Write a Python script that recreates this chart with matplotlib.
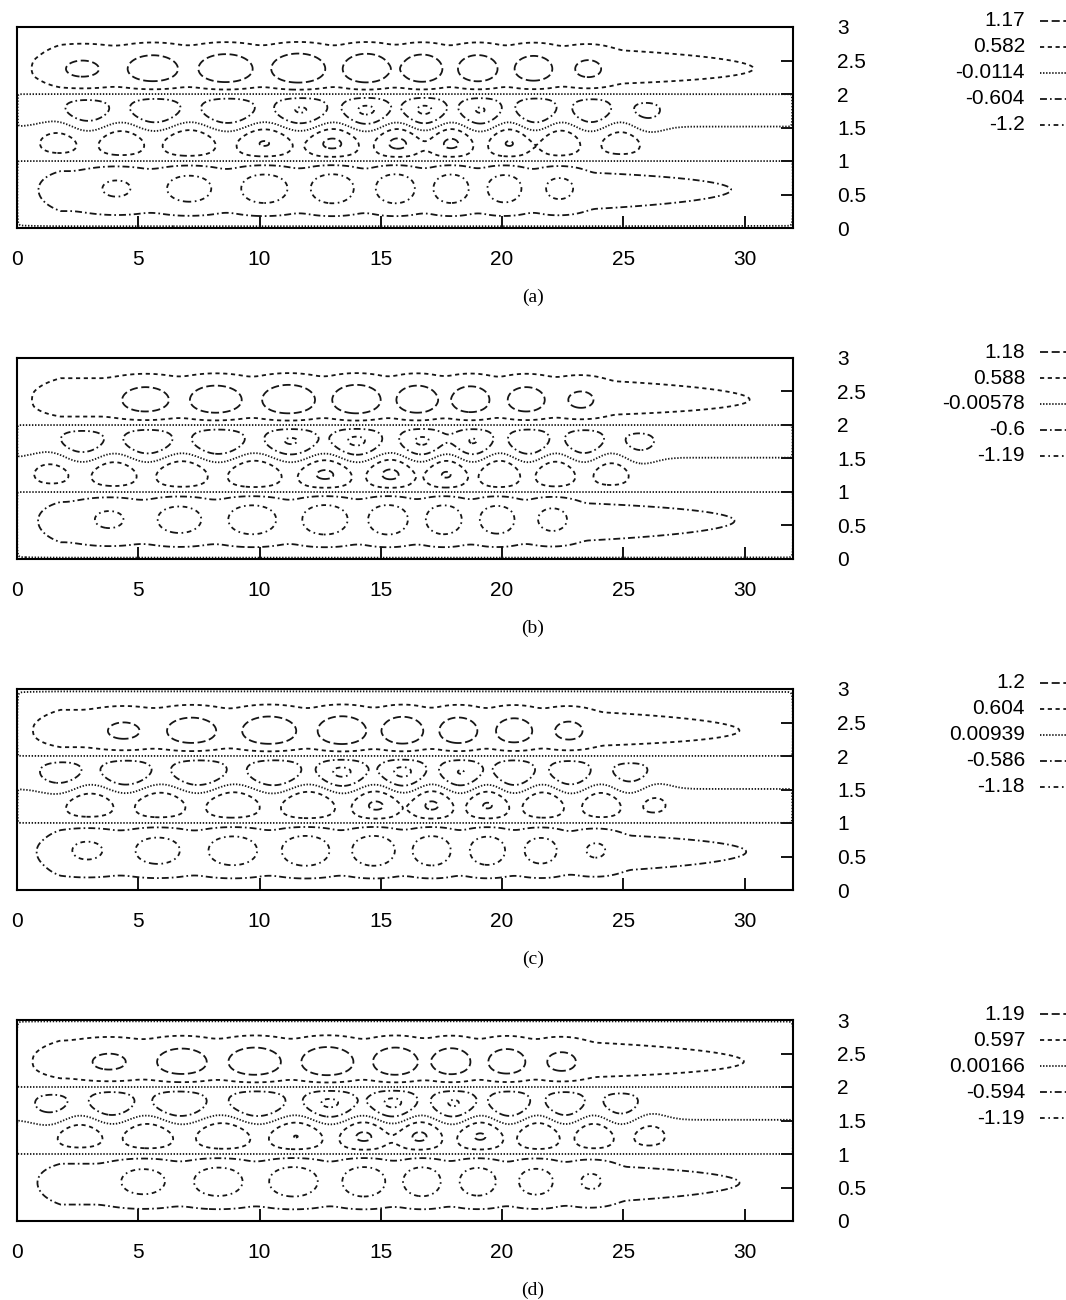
import numpy as np
import matplotlib.pyplot as plt
from matplotlib.lines import Line2D

plt.rcParams['font.family'] = ['Liberation Sans', 'DejaVu Sans']
plt.rcParams['font.size'] = 15
plt.rcParams['lines.scale_dashes'] = False

W_PX, H_PX = 1066, 1300

# contour levels as listed in each key (top to bottom)
levels_a = [1.17, 0.582, -0.0114, -0.604, -1.2]
levels_b = [1.18, 0.588, -0.00578, -0.6, -1.19]
levels_c = [1.2, 0.604, 0.00939, -0.586, -1.18]
levels_d = [1.19, 0.597, 0.00166, -0.594, -1.19]

# roll centres (x) in each of the four layers and their peak strength
top_x_a = [2.7, 5.6, 8.6, 11.6, 14.4, 16.7, 19.0, 21.3, 23.6]
top_pk_a = [1.28, 1.52, 1.6, 1.65, 1.63, 1.57, 1.53, 1.48, 1.3]
upper_x_a = [2.9, 5.7, 8.7, 11.7, 14.4, 16.8, 19.1, 21.4, 23.7, 26.0]
upper_pk_a = [0.95, 1.1, 1.15, 1.24, 1.3, 1.29, 1.24, 1.15, 1.05, 0.75]
lower_x_a = [1.7, 4.3, 7.1, 10.2, 13.0, 15.7, 17.9, 20.3, 22.4, 24.9]
lower_pk_a = [0.82, 1.0, 1.1, 1.2, 1.28, 1.29, 1.27, 1.2, 1.05, 0.9]
bottom_x_a = [4.1, 7.1, 10.2, 13.0, 15.6, 17.9, 20.1, 22.4]
bottom_pk_a = [1.3, 1.5, 1.58, 1.6, 1.6, 1.58, 1.54, 1.38]

top_x_b = [5.3, 8.2, 11.2, 14.0, 16.5, 18.7, 21.0, 23.3]
top_pk_b = [1.48, 1.58, 1.64, 1.64, 1.58, 1.53, 1.48, 1.3]
upper_x_b = [2.7, 5.4, 8.3, 11.3, 14.0, 16.7, 18.8, 21.1, 23.4, 25.7]
upper_pk_b = [0.96, 1.1, 1.15, 1.24, 1.29, 1.27, 1.22, 1.15, 1.05, 0.78]
lower_x_b = [1.4, 4.0, 6.8, 9.8, 12.7, 15.4, 17.7, 19.9, 22.2, 24.5]
lower_pk_b = [0.8, 1.0, 1.1, 1.15, 1.27, 1.29, 1.22, 1.15, 1.05, 0.9]
bottom_x_b = [3.8, 6.7, 9.7, 12.7, 15.3, 17.6, 19.8, 22.1]
bottom_pk_b = [1.3, 1.5, 1.58, 1.6, 1.6, 1.58, 1.54, 1.4]

top_x_c = [4.4, 7.2, 10.4, 13.4, 15.9, 18.2, 20.5, 22.8]
top_pk_c = [1.32, 1.54, 1.62, 1.64, 1.6, 1.55, 1.5, 1.35]
upper_x_c = [1.8, 4.5, 7.5, 10.6, 13.4, 15.9, 18.3, 20.5, 22.8, 25.3]
upper_pk_c = [0.9, 1.1, 1.15, 1.17, 1.29, 1.3, 1.2, 1.15, 1.05, 0.82]
lower_x_c = [3.0, 5.9, 8.9, 12.0, 14.8, 17.1, 19.4, 21.7, 24.1, 26.3]
lower_pk_c = [1.0, 1.07, 1.12, 1.2, 1.28, 1.28, 1.24, 1.12, 1.05, 0.72]
bottom_x_c = [2.9, 5.8, 8.9, 11.9, 14.7, 17.1, 19.4, 21.6, 23.9]
bottom_pk_c = [1.3, 1.48, 1.56, 1.6, 1.6, 1.58, 1.54, 1.46, 1.26]

top_x_d = [3.8, 6.8, 9.8, 12.8, 15.6, 17.9, 20.2, 22.5]
top_pk_d = [1.3, 1.53, 1.6, 1.64, 1.6, 1.55, 1.5, 1.35]
upper_x_d = [1.4, 3.9, 6.7, 9.9, 12.9, 15.5, 18.0, 20.3, 22.6, 24.9]
upper_pk_d = [0.8, 1.05, 1.15, 1.17, 1.28, 1.3, 1.24, 1.15, 1.05, 0.9]
lower_x_d = [2.6, 5.4, 8.5, 11.5, 14.3, 16.6, 19.1, 21.5, 23.8, 26.1]
lower_pk_d = [0.96, 1.05, 1.12, 1.2, 1.28, 1.28, 1.24, 1.15, 1.05, 0.82]
bottom_x_d = [5.2, 8.3, 11.4, 14.3, 16.7, 19.0, 21.4, 23.7]
bottom_pk_d = [1.46, 1.56, 1.6, 1.6, 1.58, 1.54, 1.48, 1.28]

captions = ['(a)', '(b)', '(c)', '(d)']

# line style for each key row (dash lengths in points)
styles = [(0, (5.8, 2.6)), (0, (3.0, 2.6)), (0, (1.0, 1.2)),
          (0, (5.0, 2.2, 1.2, 2.2)), (0, (3.4, 2.6, 1.2, 2.6))]
INK = '#161616'

XL, YL = 32.0, 3.0
xg = np.linspace(0, XL, 961)
yg = np.linspace(0, YL, 451)
X, Y = np.meshgrid(xg, yg)


def top_base(x):
    return np.interp(x, [0, 0.7, 1.8, 22, 32], [0.35, 0.62, 0.9, 0.9, 0.52])


def bottom_base(x):
    return np.interp(x, [0, 0.7, 1.8, 22, 32], [0.32, 0.56, 0.82, 0.82, 0.53])


def mid_base(x):
    return np.interp(x, [0, 1, 25, 32], [0.2, 0.25, 0.25, 0.15])


def spacing(xc):
    xc = np.asarray(xc, float)
    gaps = np.diff(xc)
    sp = np.empty_like(xc)
    sp[0], sp[-1] = gaps[0], gaps[-1]
    sp[1:-1] = (gaps[:-1] + gaps[1:]) / 2
    return xc, sp


def bumps(x, xc):
    xc, sp = spacing(xc)
    out = []
    for c, w in zip(xc, 0.65 * sp):
        d = np.abs(x - c) / w
        out.append(np.where(d < 1, np.cos(np.pi * d / 2) ** 2, 0.0))
    return out


def smooth_bumps(x, xc):
    xc, sp = spacing(xc)
    return sum(np.exp(-((x - c) / (0.38 * s)) ** 2) for c, s in zip(xc, sp))


def layer(lo, hi, t_peak, beta, base_fn, xc, pk, yc, sy):
    t = np.clip((Y - lo) / (hi - lo), 0, 1)
    prof = np.sin(np.pi * t ** (np.log(0.5) / np.log(t_peak))) ** beta
    s = base_fn(X)
    for b, c, p in zip(bumps(X, xc), xc, pk):
        s = s + (p - base_fn(c)) * b * np.exp(-((Y - yc) / sy) ** 2)
    inside = (Y >= lo) & (Y <= hi)
    return np.where(inside, prof * s, 0.0)


def field(top_x, top_pk, up_x, up_pk, lo_x, lo_pk, bot_x, bot_pk):
    # wavy divide between the two middle layers
    yb = 1.51 + 0.1 * (smooth_bumps(X, lo_x) - smooth_bumps(X, up_x))
    f = layer(2.0, 3.0, 0.38, 1.0, top_base, top_x, top_pk, 2.36, 0.42)
    f -= layer(yb, 2.0, 0.55, 0.6, mid_base, up_x, up_pk, 1.78, 0.35)
    f += layer(1.0, yb, 0.48, 0.6, mid_base, lo_x, lo_pk, 1.24, 0.35)
    f -= layer(0.0, 1.0, 0.57, 0.5, bottom_base, bot_x, bot_pk, 0.62, 0.4)
    wall = ((1 - np.exp(-(X / 0.12) ** 2)) * (1 - np.exp(-((XL - X) / 0.12) ** 2))
            * (1 - np.exp(-(Y / 0.1) ** 2)) * (1 - np.exp(-((YL - Y) / 0.1) ** 2)))
    return f * wall


panels = [
    (levels_a, (top_x_a, top_pk_a, upper_x_a, upper_pk_a, lower_x_a, lower_pk_a, bottom_x_a, bottom_pk_a)),
    (levels_b, (top_x_b, top_pk_b, upper_x_b, upper_pk_b, lower_x_b, lower_pk_b, bottom_x_b, bottom_pk_b)),
    (levels_c, (top_x_c, top_pk_c, upper_x_c, upper_pk_c, lower_x_c, lower_pk_c, bottom_x_c, bottom_pk_c)),
    (levels_d, (top_x_d, top_pk_d, upper_x_d, upper_pk_d, lower_x_d, lower_pk_d, bottom_x_d, bottom_pk_d)),
]

fig = plt.figure(figsize=(W_PX / 100, H_PX / 100), dpi=100)

box_left, box_w, box_h = 17, 776, 201
for i, (levels, cells) in enumerate(panels):
    top = 27 + 331 * i
    ax = fig.add_axes([box_left / W_PX, 1 - (top + box_h) / H_PX, box_w / W_PX, box_h / H_PX])
    F = field(*cells)

    order = np.argsort(levels)
    ax.contour(X, Y, F, levels=[levels[k] for k in order], colors=INK,
               linewidths=1.3, linestyles=[styles[k] for k in order])

    ax.set_xlim(0, XL)
    ax.set_ylim(0, YL)
    ax.set_xticks([0, 5, 10, 15, 20, 25, 30])
    ax.set_yticks([0, 0.5, 1, 1.5, 2, 2.5, 3])
    ax.set_yticklabels(['0', '0.5', '1', '1.5', '2', '2.5', '3'])
    ax.yaxis.tick_right()
    ax.tick_params(axis='x', direction='in', length=9, width=1.3, pad=16)
    ax.tick_params(axis='y', direction='in', length=9, width=1.3, pad=32)
    for sp in ax.spines.values():
        sp.set_linewidth(1.5)

    # key at the upper right
    for k, lev in enumerate(levels):
        yy = 1 - (top - 6 + 26 * k) / H_PX
        fig.text(1025 / W_PX, yy, str(lev), ha='right', va='center', fontsize=15)
        fig.add_artist(Line2D([1040 / W_PX, 1070 / W_PX], [yy, yy], transform=fig.transFigure,
                              color=INK, lw=1.3, linestyle=styles[k]))

    fig.text(533 / W_PX, 1 - (top + box_h + 69) / H_PX, captions[i], ha='center', va='center',
             family='Liberation Serif', fontsize=14)

fig.savefig('out.png', dpi=100)
